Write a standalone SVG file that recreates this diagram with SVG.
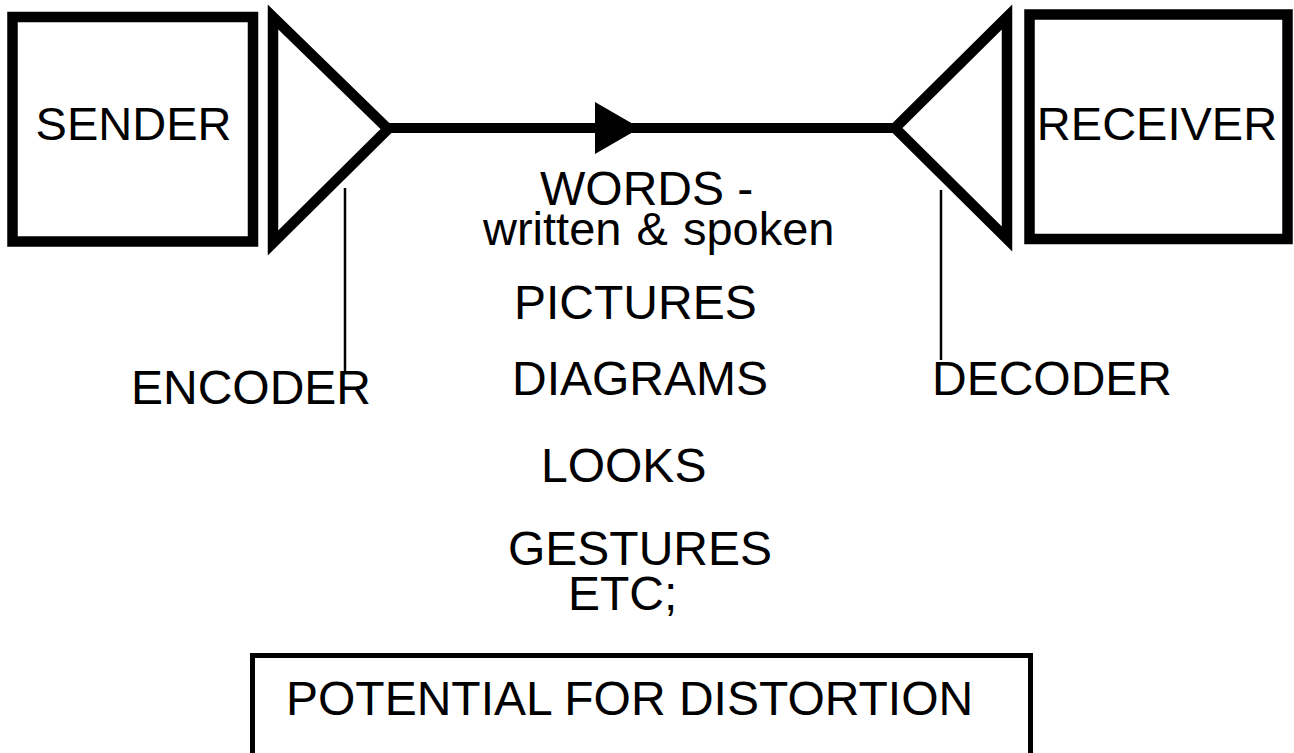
<svg xmlns="http://www.w3.org/2000/svg" width="1294" height="753" viewBox="0 0 1294 753">
<style>
  .t { font-family: "Liberation Sans", Arial, sans-serif; font-size: 48px; fill: #000; }
  .big { font-size: 47px; }
  .thick { fill: none; stroke: #000; stroke-width: 10.5; stroke-linejoin: miter; }
  .thin { fill: none; stroke: #000; stroke-width: 2.5; }
</style>
<rect width="1294" height="753" fill="#fff"/>
<g id="sender">
  <rect class="thick" x="12.5" y="17" width="240.5" height="224.5"/>
  <text class="t big" x="133.5" y="140" text-anchor="middle">SENDER</text>
</g>
<g id="encoder">
  <polygon class="thick" points="273,17 388,129 273,243"/>
  <text class="t" x="131" y="404">ENCODER</text>
</g>
<g id="decoder">
  <polygon class="thick" points="1007,17 895,128 1007,239"/>
  <text class="t" x="932" y="395">DECODER</text>
</g>
<g id="receiver">
  <rect class="thick" x="1029.5" y="14.5" width="258" height="224.5"/>
  <text class="t big" x="1157" y="140" text-anchor="middle">RECEIVER</text>
</g>
<g id="message">
  <text class="t" x="540" y="205">WORDS -</text>
  <text class="t big" x="483" y="245" word-spacing="2">written &amp; spoken</text>
  <text class="t" x="514" y="319">PICTURES</text>
  <text class="t" x="512" y="395">DIAGRAMS</text>
  <text class="t" x="541" y="482">LOOKS</text>
  <text class="t" x="508" y="565">GESTURES</text>
  <text class="t" x="568" y="610">ETC;</text>
</g>
<g id="distortion">
  <rect x="252.5" y="655.5" width="778" height="120" fill="none" stroke="#000" stroke-width="5"/>
  <text class="t" x="286" y="715">POTENTIAL FOR DISTORTION</text>
</g>
<g id="connectors">
  <line x1="385" y1="128" x2="898" y2="128" stroke="#000" stroke-width="10"/>
  <polygon points="595,102 595,154 640,128" fill="#000"/>
  <line class="thin" x1="345" y1="188" x2="345" y2="372"/>
  <line class="thin" x1="941" y1="190" x2="941" y2="360"/>
</g>
</svg>
